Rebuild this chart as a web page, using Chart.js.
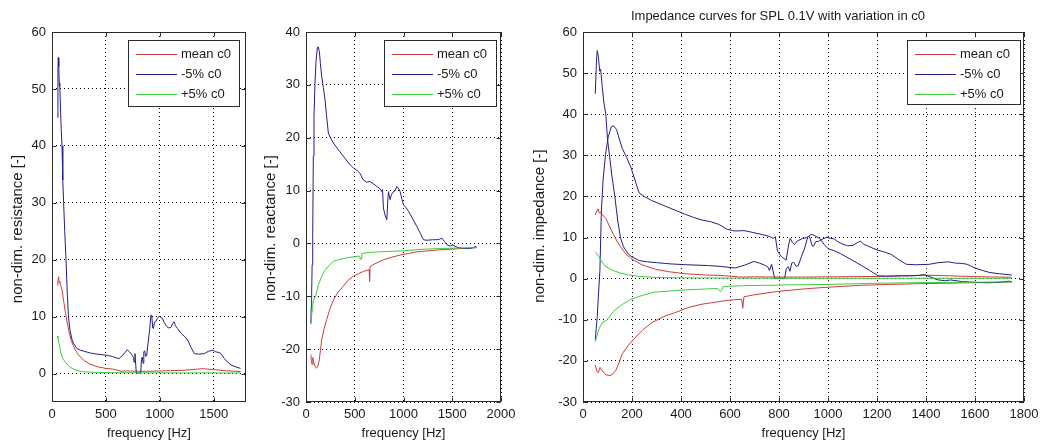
<!DOCTYPE html>
<html><head><meta charset="utf-8">
<script src="https://cdn.jsdelivr.net/npm/chart.js@4.4.1/dist/chart.umd.min.js"></script>
<style>
html,body{margin:0;padding:0;background:#fff;}
#wrap{position:relative;width:1051px;height:446px;overflow:hidden;background:#fff;}
#wrap canvas{position:absolute;top:0;background:#fff;}
</style></head><body>
<div id="wrap">
<canvas id="c1" width="262" height="446" style="left:0px"></canvas>
<canvas id="c2" width="268" height="446" style="left:262px"></canvas>
<canvas id="c3" width="521" height="446" style="left:530px"></canvas>
</div>
<script>
// ---------- data ----------
const seriesNames = ['mean c0', '-5% c0', '+5% c0'];

// resistance, mean c0
const resMeanFreq = [50,55,62,66,72,80,93,110,124,140,155,175,201,240,295,350,419,500,560,605,640,700,800,900,1000,1100,1200,1300,1400,1500,1600,1700,1750];
const resMeanVal  = [15.5,16.3,17.0,16.0,16.2,15.5,14.7,12.5,10.8,9.0,7.6,6.0,4.7,3.4,2.3,1.7,1.2,0.9,0.8,0.6,0.4,0.45,0.4,0.4,0.45,0.5,0.55,0.7,0.85,0.7,0.5,0.4,0.35];

// resistance, -5% c0
const resMinusFreq = [50,55,58,63,68,72,78,85,93,100,108,118,130,142,153,165,185,200,230,264,300,357,420,512,560,621,660,698,720,745,755,761,770,782,823,830,838,845,852,860,870,879,891,905,918,925,935,941,950,962,975,997,1010,1025,1040,1056,1080,1102,1120,1133,1145,1164,1200,1230,1258,1290,1320,1360,1413,1450,1491,1520,1550,1568,1600,1630,1661,1700,1750];
const resMinusVal  = [45,53,55.5,54,50.5,51,47,43,40,34,30,25,20,14,10,7.8,6,5.3,4.4,4.1,3.9,3.6,3.4,3.2,3.0,2.6,3.3,4.2,3.8,3.2,2.8,2.0,3.5,0.1,0.1,2.5,2.9,1.8,3.8,4.0,3.0,3.2,5.3,7.5,10.3,10.2,8.0,7.9,9.0,9.1,9.6,10.1,9.8,9.7,9.0,8.5,8.0,8.1,8.8,9.1,8.4,7.9,7.0,6.5,5.9,4.6,3.5,3.4,3.5,3.9,4.1,3.8,3.7,3.5,2.6,2.0,1.5,1.2,0.9];

// resistance, +5% c0
const resPlusFreq = [50,55,65,77,90,105,124,150,186,230,295,400,600,800,1000,1200,1400,1600,1750];
const resPlusVal  = [6.6,6.2,5.3,4.1,3.1,2.5,2.0,1.4,0.9,0.55,0.3,0.2,0.15,0.12,0.12,0.1,0.12,0.1,0.1];

// reactance, mean c0
const reaMeanFreq = [50,56,62,70,78,92,110,122,134,148,161,185,212,245,281,330,383,430,486,540,589,620,648,652,657,700,794,880,966,1050,1137,1250,1374,1479,1600,1736,1750];
const reaMeanVal  = [-21,-22.5,-22.9,-21.6,-22.4,-23.3,-23.6,-23.2,-22.3,-20.3,-18.2,-16.2,-14.4,-12.4,-10.7,-9.2,-8.1,-7.0,-6.2,-5.7,-5.3,-5.1,-5.0,-7.2,-4.4,-3.9,-3.1,-2.6,-2.2,-1.9,-1.6,-1.4,-1.2,-1.1,-0.95,-0.8,-0.8];

// reactance, -5% c0
const reaMinusFreq = [50,54,58,63,69,75,82,92,103,116,125,137,148,161,178,195,212,229,250,281,330,383,420,452,490,520,555,589,620,657,690,726,760,777,785,794,810,829,840,846,855,863,875,897,915,931,945,966,985,1000,1025,1051,1090,1137,1170,1205,1240,1300,1343,1370,1394,1420,1445,1479,1500,1548,1600,1651,1700,1736,1750];
const reaMinusVal  = [-15.1,-12,-9.4,-4,2.0,16.5,24,30.3,34.5,37.0,37.2,36.3,34,31.6,29.5,27.2,24,20.9,20,19.0,17.8,16.5,15.6,14.9,14.2,13.9,13.2,12.0,11.6,11.7,11.3,10.8,10.3,9.8,10.2,6.7,5.4,4.5,8.5,9.8,8.8,8.3,9.2,9.8,10.0,10.8,10.5,9.8,8.3,7.3,6.8,6.1,4.8,3.2,2.0,0.7,0.6,0.7,0.7,0.8,1.0,0.4,-0.25,-0.5,-0.3,-0.7,-0.9,-1.0,-0.9,-0.6,-0.7];

// reactance, +5% c0
const reaPlusFreq = [50,56,62,70,80,99,125,160,193,240,288,350,424,500,550,559,566,572,650,750,850,1000,1200,1400,1600,1750];
const reaPlusVal  = [-15.3,-14.0,-12.8,-11.6,-10.6,-10,-7.9,-6.3,-5.1,-4.1,-3.3,-3.0,-2.7,-2.5,-2.4,-3.1,-2.9,-1.9,-1.7,-1.6,-1.5,-1.4,-1.1,-0.95,-0.85,-0.8];

// tick labels
const xTicksRes = [0,500,1000,1500];
const yTicksRes = [0,10,20,30,40,50,60];
const xTicksRea = [0,500,1000,1500,2000];
const yTicksRea = [-30,-20,-10,0,10,20,30,40];
const xTicksImp = [0,200,400,600,800,1000,1200,1400,1600,1800];
const yTicksImp = [-30,-20,-10,0,10,20,30,40,50,60];

const titleImp = 'Impedance curves for SPL 0.1V with variation in c0';
const xLabel = 'frequency [Hz]';
const yLabelRes = 'non-dim. resistance [-]';
const yLabelRea = 'non-dim. reactance [-]';
const yLabelImp = 'non-dim. impedance [-]';

// ---------- styling ----------
const COLORS = ['#d03c3c', '#20208c', '#3ccc3c'];
const TXT = '#1a1a1a';
const FAM = '"Liberation Sans", Arial, sans-serif';
const FS = 13;

function zip(xs, ys){ return xs.map((x,i)=>({x:x, y:ys[i]})); }
function ds(label, xs, ys, color, order){
  return {label:label, data:zip(xs,ys), borderColor:color, backgroundColor:color,
          borderWidth:1, pointRadius:0, showLine:true, tension:0, order:order};
}

const boxPlugin = {
  id:'mlBox',
  afterDatasetsDraw(chart){
    const {ctx, chartArea:a} = chart;
    ctx.save();
    ctx.setLineDash([]);
    ctx.strokeStyle = '#2a2a2a'; ctx.lineWidth = 1;
    const L = Math.round(a.left)+0.5, R = Math.round(a.right)-0.5, T = Math.round(a.top)+0.5, B = Math.round(a.bottom)-0.5;
    ctx.strokeRect(L, T, R-L, B-T);
    const tl = 4;
    ctx.beginPath();
    chart.scales.x.ticks.forEach(t=>{
      const px = Math.round(chart.scales.x.getPixelForValue(t.value))+0.5;
      ctx.moveTo(px, B); ctx.lineTo(px, B-tl);
      ctx.moveTo(px, T); ctx.lineTo(px, T+tl);
    });
    chart.scales.y.ticks.forEach(t=>{
      const py = Math.round(chart.scales.y.getPixelForValue(t.value))+0.5;
      ctx.moveTo(L, py); ctx.lineTo(L+tl, py);
      ctx.moveTo(R, py); ctx.lineTo(R-tl, py);
    });
    ctx.stroke();
    ctx.restore();
  }
};

const legendPlugin = {
  id:'mlLegend',
  afterDraw(chart, args, opts){
    const {ctx, chartArea:a} = chart;
    const w = opts.width, h = opts.height;
    const x0 = Math.round(a.right - opts.right - w), y0 = Math.round(a.top + opts.top);
    ctx.save();
    ctx.setLineDash([]);
    ctx.lineWidth = 1;
    ctx.fillStyle = '#ffffff'; ctx.fillRect(x0, y0, w, h);
    ctx.strokeStyle = '#2a2a2a'; ctx.strokeRect(x0+0.5, y0+0.5, w, h);
    ctx.font = FS + 'px ' + FAM;
    ctx.textBaseline = 'middle'; ctx.textAlign = 'left';
    for (let i = 0; i < seriesNames.length; i++) {
      const yy = Math.round(y0 + 14 + i*20);
      ctx.fillStyle = COLORS[i];
      ctx.fillRect(x0+8, yy, 41, 1);
      ctx.fillStyle = TXT;
      ctx.fillText(seriesNames[i], x0+53, yy+0.5);
    }
    ctx.restore();
  }
};

// y-axis label drawn as rotated text, centred where the reference puts it
const yTitlePlugin = {
  id:'mlYTitle',
  afterDraw(chart, args, opts){
    const ctx = chart.ctx;
    ctx.save();
    ctx.translate(opts.x, opts.y);
    ctx.rotate(-Math.PI/2);
    ctx.font = opts.size + 'px ' + FAM;
    ctx.fillStyle = TXT; ctx.textAlign = 'center'; ctx.textBaseline = 'middle';
    ctx.fillText(opts.text, 0, 0);
    ctx.restore();
  }
};

function makeChart(id, c){
  return new Chart(document.getElementById(id), {
    type:'scatter',
    data:{datasets:c.datasets},
    options:{
      responsive:false, animation:false, devicePixelRatio:1,
      events:[],
      layout:{padding:c.padding},
      plugins:{
        legend:{display:false}, tooltip:{enabled:false},
        title: c.title ? {display:true, text:c.title, color:TXT, font:{family:FAM, size:FS, weight:'normal'}, padding:c.titlePad} : {display:false},
        mlLegend:c.legend,
        mlYTitle:c.ytitle
      },
      scales:{
        x:{type:'linear', position:'bottom', min:c.xmin, max:c.xmax,
           afterBuildTicks:s=>{ s.ticks = c.xticks.map(v=>({value:v})); },
           afterFit:s=>{ s.height = 44; },
           grid:{color:'#000', lineWidth:1, drawTicks:false},
           border:{display:false, dash:[1,3]},
           ticks:{color:TXT, font:{family:FAM, size:FS}, padding:5, maxRotation:0, autoSkip:false, callback:v=>String(v)},
           title:{display:true, text:xLabel, color:TXT, font:{family:FAM, size:FS}, padding:{top:0,bottom:5}}
        },
        y:{type:'linear', position:'left', min:c.ymin, max:c.ymax,
           afterBuildTicks:s=>{ s.ticks = c.yticks.map(v=>({value:v})); },
           afterFit:s=>{ s.width = c.ywidth; },
           grid:{color:'#000', lineWidth:1, drawTicks:false},
           border:{display:false, dash:[1,3]},
           ticks:{color:TXT, font:{family:FAM, size:FS}, padding:6, autoSkip:false, callback:v=>String(v)},
           title:{display:false}
        }
      }
    },
    plugins:[boxPlugin, legendPlugin, yTitlePlugin]
  });
}

const resSets = () => [
  ds(seriesNames[0], resMeanFreq, resMeanVal, COLORS[0], 2),
  ds(seriesNames[1], resMinusFreq, resMinusVal, COLORS[1], 1),
  ds(seriesNames[2], resPlusFreq, resPlusVal, COLORS[2], 0)
];
const reaSets = () => [
  ds(seriesNames[0], reaMeanFreq, reaMeanVal, COLORS[0], 2),
  ds(seriesNames[1], reaMinusFreq, reaMinusVal, COLORS[1], 1),
  ds(seriesNames[2], reaPlusFreq, reaPlusVal, COLORS[2], 0)
];

// canvas 1: x 0..262, plot area 52..246
makeChart('c1', {
  datasets:resSets(), padding:{left:0, right:16, top:32, bottom:0},
  xmin:0, xmax:1800, ymin:-5, ymax:60, xticks:xTicksRes, yticks:yTicksRes,
  ywidth:52, ytitle:{text:yLabelRes, x:18, y:229, size:15},
  legend:{width:111, height:66, right:7, top:8}
});
// canvas 2: x 262..530, plot area 306..501
makeChart('c2', {
  datasets:reaSets(), padding:{left:0, right:29, top:32, bottom:0},
  xmin:0, xmax:2000, ymin:-30, ymax:40, xticks:xTicksRea, yticks:yTicksRea,
  ywidth:44, ytitle:{text:yLabelRea, x:9, y:228, size:15},
  legend:{width:112, height:66, right:5, top:8}
});
// canvas 3: x 530..1051, plot area 583..1024
const impSets = resSets().concat(reaSets());
makeChart('c3', {
  datasets:impSets, padding:{left:2, right:27, top:0, bottom:0},
  title:titleImp, titlePad:{top:8.5, bottom:8},
  xmin:0, xmax:1800, ymin:-30, ymax:60, xticks:xTicksImp, yticks:yTicksImp,
  ywidth:51, ytitle:{text:yLabelImp, x:10, y:226, size:15},
  legend:{width:113, height:64, right:4, top:8}
});
</script>
</body></html>
